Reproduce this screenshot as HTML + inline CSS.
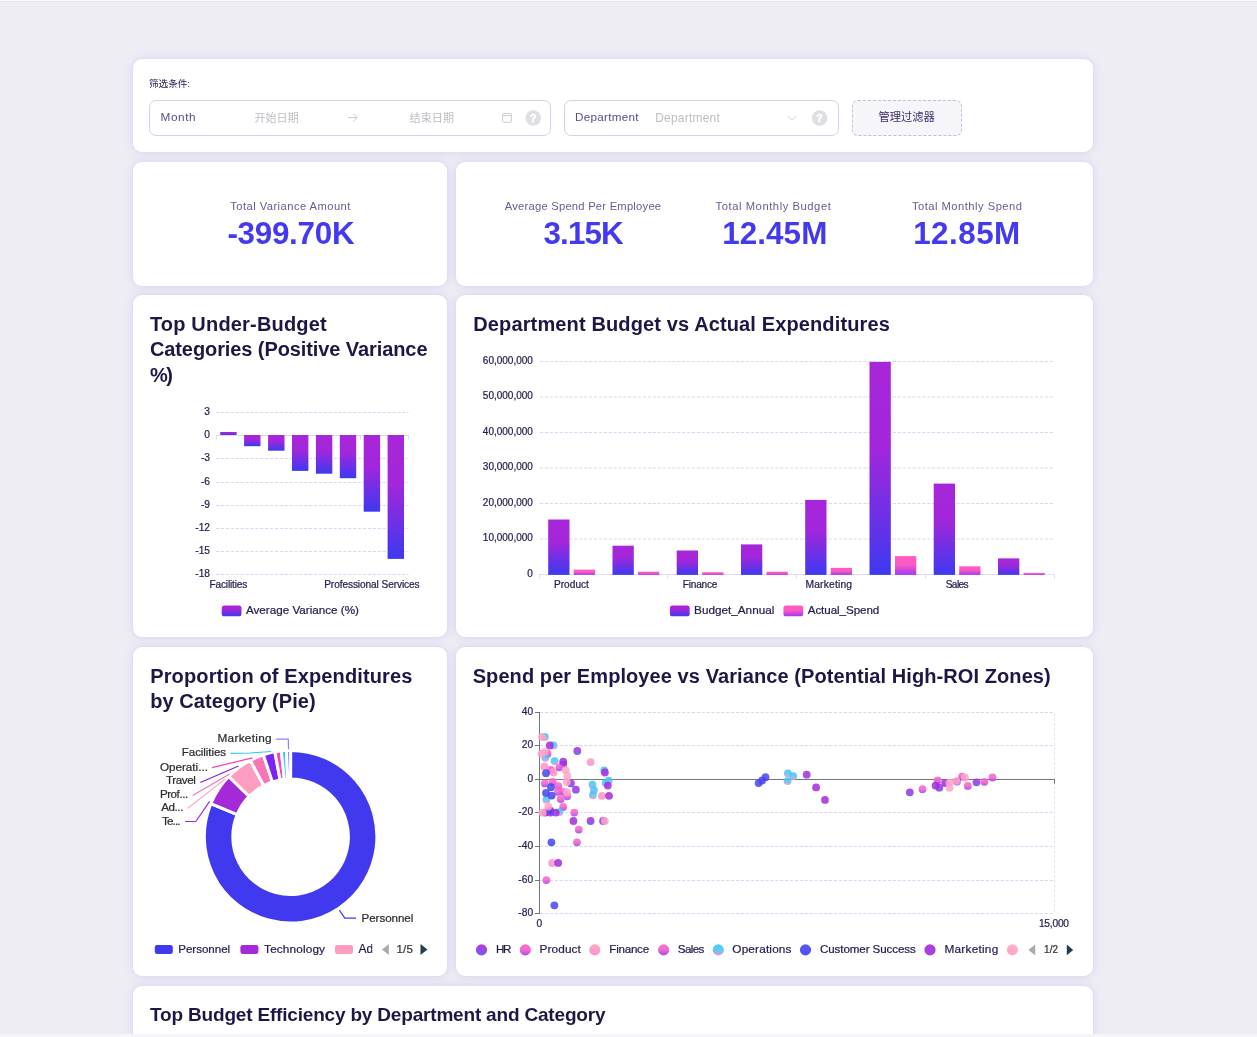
<!DOCTYPE html>
<html lang="en"><head><meta charset="utf-8"><title>Budget Dashboard</title>
<style>
*{box-sizing:border-box;margin:0;padding:0}
html,body{width:1257px;height:1037px;overflow:hidden}
body{background:#eeedf4;font-family:"Liberation Sans",sans-serif;position:relative;color:#1f1646}
.topline{position:absolute;left:0;top:0;width:1257px;height:2px;background:linear-gradient(#fbfbfc 0,#fbfbfc 50%,#e6e6e8 50%,#e6e6e8 100%)}
.botbar{position:absolute;left:0;top:1034px;width:1257px;height:3px;background:#f4f5f8}
.card{position:absolute;background:#fff;border-radius:9px;box-shadow:0 0 10px 1px rgba(152,122,238,.17),0 0 3px rgba(152,122,238,.1)}
.inp{position:absolute;top:100px;height:36px;border:1px solid #d3d1ee;border-radius:7px;background:#fff}
.btn{position:absolute;left:852px;top:100px;width:110px;height:36px;border:1px dashed #c4bde0;border-radius:6px;background:#f6f5fa}
svg{position:absolute;left:0;top:0;will-change:transform}
svg text{font-family:"Liberation Sans",sans-serif;white-space:pre}
</style></head><body>
<div class="topline"></div>
<div class="card" style="left:133px;top:59px;width:960px;height:93px"></div>
<div class="card" style="left:133px;top:162px;width:314px;height:124px"></div>
<div class="card" style="left:456px;top:162px;width:637px;height:124px"></div>
<div class="card" style="left:133px;top:295px;width:314px;height:342px"></div>
<div class="card" style="left:456px;top:295px;width:637px;height:342px"></div>
<div class="card" style="left:133px;top:647px;width:314px;height:329px"></div>
<div class="card" style="left:456px;top:647px;width:637px;height:329px"></div>
<div class="card" style="left:133px;top:986px;width:960px;height:80px"></div>
<div class="inp" style="left:149px;width:402px"></div>
<div class="inp" style="left:564px;width:275px"></div>
<div class="btn"></div>
<svg width="1257" height="1037" viewBox="0 0 1257 1037">
<defs>
<linearGradient id="gB" x1="0" y1="0" x2="0" y2="1"><stop offset="0" stop-color="#a826d9"/><stop offset="0.4" stop-color="#a326da"/><stop offset="1" stop-color="#3d39f1"/></linearGradient>
<linearGradient id="gA" x1="0" y1="0" x2="0" y2="1"><stop offset="0" stop-color="#ff5cc0"/><stop offset="0.45" stop-color="#fb5ac4"/><stop offset="1" stop-color="#a436f0"/></linearGradient>
<linearGradient id="sHR" x1="0" y1="0" x2="0" y2="1"><stop offset="0" stop-color="#aa2fda"/><stop offset="0.35" stop-color="#a232dd"/><stop offset="1" stop-color="#5850f7"/></linearGradient>
<linearGradient id="sPR" x1="0" y1="0" x2="0" y2="1"><stop offset="0" stop-color="#ff62c2"/><stop offset="0.45" stop-color="#f95ec6"/><stop offset="1" stop-color="#9e40f5"/></linearGradient>
<linearGradient id="sFI" x1="0" y1="0" x2="0" y2="1"><stop offset="0" stop-color="#ff9cc4"/><stop offset="1" stop-color="#f88cc8"/></linearGradient>
<linearGradient id="sSA" x1="0" y1="0" x2="0" y2="1"><stop offset="0" stop-color="#fb68c4"/><stop offset="0.45" stop-color="#f060cc"/><stop offset="1" stop-color="#9c3af5"/></linearGradient>
<linearGradient id="sOP" x1="0" y1="0" x2="0" y2="1"><stop offset="0" stop-color="#35c8f5"/><stop offset="0.55" stop-color="#55c4f2"/><stop offset="1" stop-color="#f48cd0"/></linearGradient>
<linearGradient id="sCS" x1="0" y1="0" x2="0" y2="1"><stop offset="0" stop-color="#4b4af2"/><stop offset="1" stop-color="#4540ee"/></linearGradient>
<linearGradient id="sMK" x1="0" y1="0" x2="0" y2="1"><stop offset="0" stop-color="#a82cda"/><stop offset="1" stop-color="#a030e0"/></linearGradient>
<linearGradient id="sX" x1="0" y1="0" x2="0" y2="1"><stop offset="0" stop-color="#ffa8c8"/><stop offset="1" stop-color="#ffa0c4"/></linearGradient>
</defs>
<g id="filter-bar">
<text x="149" y="86.6" font-size="9.6" fill="#2a2250" style="font-family:'Liberation Sans','Noto Sans CJK SC',sans-serif">筛选条件:</text>
<text x="254.4" y="122.2" font-size="11.1" fill="#bdbdc4" style="font-family:'Liberation Sans','Noto Sans CJK SC',sans-serif">开始日期</text>
<text x="409.6" y="122.2" font-size="11.1" fill="#bdbdc4" style="font-family:'Liberation Sans','Noto Sans CJK SC',sans-serif">结束日期</text>
<text x="878.4" y="121.2" font-size="11.3" fill="#3f2f6e" style="font-family:'Liberation Sans','Noto Sans CJK SC',sans-serif">管理过滤器</text>
<path d="M348 117.6H357M353.2 113.6L357.2 117.6L353.2 121.6" fill="none" stroke="#c4c4ca" stroke-width="0.9"/>
<rect x="502.6" y="113.5" width="8.8" height="8.8" rx="0.9" fill="none" stroke="#c6c6cc" stroke-width="0.9"/><line x1="502.6" y1="115.6" x2="511.4" y2="115.6" stroke="#c6c6cc" stroke-width="0.9"/>
<circle cx="533.2" cy="118" r="7.8" fill="#dfdee3"/>
<text x="533.2" y="121.8" font-size="10.6" font-weight="700" fill="#fff" stroke="#fff" stroke-width="0.5" text-anchor="middle">?</text>
<circle cx="819.6" cy="118" r="7.8" fill="#dfdee3"/>
<text x="819.6" y="121.8" font-size="10.6" font-weight="700" fill="#fff" stroke="#fff" stroke-width="0.5" text-anchor="middle">?</text>
<path d="M787.8 116.2L792 120.2L796.2 116.2" fill="none" stroke="#c6c6cc" stroke-width="0.9"/>
<text x="160.6" y="120.9" font-size="11.8" fill="#5a4a8c" textLength="34.9" lengthAdjust="spacing">Month</text>
<text x="575.0" y="120.9" font-size="11.7" fill="#5a4a8c" textLength="63.5" lengthAdjust="spacing">Department</text>
<text x="655.2" y="122.0" font-size="11.9" fill="#bcbcc2" textLength="64.5" lengthAdjust="spacing">Department</text>
</g>
<g id="kpis">
<text x="230.2" y="209.6" font-size="11.2" fill="#6a5a90" textLength="120.2" lengthAdjust="spacing">Total Variance Amount</text>
<text x="504.7" y="209.6" font-size="11.2" fill="#6a5a90" textLength="156.4" lengthAdjust="spacing">Average Spend Per Employee</text>
<text x="715.6" y="209.6" font-size="11.2" fill="#6a5a90" textLength="115.2" lengthAdjust="spacing">Total Monthly Budget</text>
<text x="911.9" y="209.6" font-size="11.2" fill="#6a5a90" textLength="110.1" lengthAdjust="spacing">Total Monthly Spend</text>
<text x="227.4" y="243.8" font-size="31.4" fill="#4339f1" font-weight="700" textLength="127.2" lengthAdjust="spacing">-399.70K</text>
<text x="543.5" y="243.8" font-size="31.4" fill="#4339f1" font-weight="700" textLength="80.2" lengthAdjust="spacing">3.15K</text>
<text x="722.2" y="243.8" font-size="31.4" fill="#4339f1" font-weight="700" textLength="105.1" lengthAdjust="spacing">12.45M</text>
<text x="913.2" y="243.8" font-size="31.4" fill="#4339f1" font-weight="700" textLength="107.0" lengthAdjust="spacing">12.85M</text>
</g>
<g id="titles" font-weight="700">
<text x="149.9" y="330.7" font-size="20.0" fill="#1f1646" textLength="176.8" lengthAdjust="spacing">Top Under-Budget</text>
<text x="149.9" y="356.4" font-size="20.0" fill="#1f1646" textLength="277.6" lengthAdjust="spacing">Categories (Positive Variance</text>
<text x="149.9" y="382.1" font-size="20.0" fill="#1f1646" textLength="22.9" lengthAdjust="spacing">%)</text>
<text x="473.3" y="330.7" font-size="20.0" fill="#1f1646" textLength="416.5" lengthAdjust="spacing">Department Budget vs Actual Expenditures</text>
<text x="150.2" y="682.5" font-size="20.0" fill="#1f1646" textLength="262.2" lengthAdjust="spacing">Proportion of Expenditures</text>
<text x="150.2" y="708.1" font-size="20.0" fill="#1f1646" textLength="165.5" lengthAdjust="spacing">by Category (Pie)</text>
<text x="472.7" y="682.5" font-size="20.0" fill="#1f1646" textLength="578.0" lengthAdjust="spacing">Spend per Employee vs Variance (Potential High-ROI Zones)</text>
<text x="150.1" y="1020.7" font-size="19.0" fill="#1f1646" textLength="455.4" lengthAdjust="spacing">Top Budget Efficiency by Department and Category</text>
</g>
<g id="chart-under-budget">
<line x1="216" y1="412.5" x2="408.5" y2="412.5" stroke="#d9d7f1" stroke-width="1" stroke-dasharray="3.2 1.7"/>
<text x="210.0" y="414.6" font-size="10.2" fill="#231b4b" stroke="#231b4b" stroke-width="0.22" text-anchor="end">3</text>
<text x="210.0" y="437.6" font-size="10.2" fill="#231b4b" stroke="#231b4b" stroke-width="0.22" text-anchor="end">0</text>
<line x1="216" y1="458.5" x2="408.5" y2="458.5" stroke="#d9d7f1" stroke-width="1" stroke-dasharray="3.2 1.7"/>
<text x="210.0" y="460.6" font-size="10.2" fill="#231b4b" stroke="#231b4b" stroke-width="0.22" text-anchor="end">-3</text>
<line x1="216" y1="482.5" x2="408.5" y2="482.5" stroke="#d9d7f1" stroke-width="1" stroke-dasharray="3.2 1.7"/>
<text x="210.0" y="484.6" font-size="10.2" fill="#231b4b" stroke="#231b4b" stroke-width="0.22" text-anchor="end">-6</text>
<line x1="216" y1="505.5" x2="408.5" y2="505.5" stroke="#d9d7f1" stroke-width="1" stroke-dasharray="3.2 1.7"/>
<text x="210.0" y="507.6" font-size="10.2" fill="#231b4b" stroke="#231b4b" stroke-width="0.22" text-anchor="end">-9</text>
<line x1="216" y1="528.5" x2="408.5" y2="528.5" stroke="#d9d7f1" stroke-width="1" stroke-dasharray="3.2 1.7"/>
<text x="210.0" y="530.6" font-size="10.2" fill="#231b4b" stroke="#231b4b" stroke-width="0.22" text-anchor="end">-12</text>
<line x1="216" y1="551.5" x2="408.5" y2="551.5" stroke="#d9d7f1" stroke-width="1" stroke-dasharray="3.2 1.7"/>
<text x="210.0" y="553.6" font-size="10.2" fill="#231b4b" stroke="#231b4b" stroke-width="0.22" text-anchor="end">-15</text>
<line x1="216" y1="574.5" x2="408.5" y2="574.5" stroke="#d9d7f1" stroke-width="1" stroke-dasharray="3.2 1.7"/>
<text x="210.0" y="576.6" font-size="10.2" fill="#231b4b" stroke="#231b4b" stroke-width="0.22" text-anchor="end">-18</text>
<line x1="216" y1="435.5" x2="409.0" y2="435.5" stroke="#e0ddf2" stroke-width="1"/>
<line x1="216.5" y1="435.5" x2="216.5" y2="439.5" stroke="#e0ddf2" stroke-width="1"/>
<line x1="360.5" y1="435.5" x2="360.5" y2="439.5" stroke="#e0ddf2" stroke-width="1"/>
<line x1="408.5" y1="435.5" x2="408.5" y2="439.5" stroke="#e0ddf2" stroke-width="1"/>
<rect x="220.2" y="432.0" width="16.4" height="3.0" fill="url(#gB)"/>
<rect x="244.1" y="435.0" width="16.4" height="11.2" fill="url(#gB)"/>
<rect x="268.1" y="435.0" width="16.4" height="15.7" fill="url(#gB)"/>
<rect x="292.0" y="435.0" width="16.4" height="35.9" fill="url(#gB)"/>
<rect x="315.9" y="435.0" width="16.4" height="38.7" fill="url(#gB)"/>
<rect x="339.8" y="435.0" width="16.4" height="43.2" fill="url(#gB)"/>
<rect x="363.7" y="435.0" width="16.4" height="76.7" fill="url(#gB)"/>
<rect x="387.6" y="435.0" width="16.4" height="123.9" fill="url(#gB)"/>
<text x="209.5" y="588.1" font-size="10.15" fill="#231b4b" stroke="#231b4b" stroke-width="0.22" textLength="37.7" lengthAdjust="spacing">Facilities</text>
<text x="324.2" y="588.1" font-size="10.15" fill="#231b4b" stroke="#231b4b" stroke-width="0.22" textLength="95.4" lengthAdjust="spacing">Professional Services</text>
<rect x="221.7" y="605.4" width="19.8" height="10.9" rx="2.6" fill="url(#gB)"/>
<text x="245.9" y="614.0" font-size="11.67" fill="#231b4b" stroke="#231b4b" stroke-width="0.22" textLength="113.1" lengthAdjust="spacing">Average Variance (%)</text>
</g>
<g id="chart-dept-budget">
<line x1="540" y1="361.5" x2="1053.5" y2="361.5" stroke="#d9d7f1" stroke-width="1" stroke-dasharray="3.2 1.7"/>
<text x="532.9" y="363.6" font-size="10.0" fill="#231b4b" stroke="#231b4b" stroke-width="0.22" text-anchor="end">60,000,000</text>
<line x1="540" y1="397.0" x2="1053.5" y2="397.0" stroke="#d9d7f1" stroke-width="1" stroke-dasharray="3.2 1.7"/>
<text x="532.9" y="399.1" font-size="10.0" fill="#231b4b" stroke="#231b4b" stroke-width="0.22" text-anchor="end">50,000,000</text>
<line x1="540" y1="432.5" x2="1053.5" y2="432.5" stroke="#d9d7f1" stroke-width="1" stroke-dasharray="3.2 1.7"/>
<text x="532.9" y="434.6" font-size="10.0" fill="#231b4b" stroke="#231b4b" stroke-width="0.22" text-anchor="end">40,000,000</text>
<line x1="540" y1="468.0" x2="1053.5" y2="468.0" stroke="#d9d7f1" stroke-width="1" stroke-dasharray="3.2 1.7"/>
<text x="532.9" y="470.1" font-size="10.0" fill="#231b4b" stroke="#231b4b" stroke-width="0.22" text-anchor="end">30,000,000</text>
<line x1="540" y1="503.5" x2="1053.5" y2="503.5" stroke="#d9d7f1" stroke-width="1" stroke-dasharray="3.2 1.7"/>
<text x="532.9" y="505.6" font-size="10.0" fill="#231b4b" stroke="#231b4b" stroke-width="0.22" text-anchor="end">20,000,000</text>
<line x1="540" y1="539.0" x2="1053.5" y2="539.0" stroke="#d9d7f1" stroke-width="1" stroke-dasharray="3.2 1.7"/>
<text x="532.9" y="541.1" font-size="10.0" fill="#231b4b" stroke="#231b4b" stroke-width="0.22" text-anchor="end">10,000,000</text>
<text x="532.9" y="576.6" font-size="10.0" fill="#231b4b" stroke="#231b4b" stroke-width="0.22" text-anchor="end">0</text>
<line x1="539" y1="574.5" x2="1055" y2="574.5" stroke="#e0ddf2" stroke-width="1"/>
<line x1="539.5" y1="574.5" x2="539.5" y2="578.7" stroke="#e0ddf2" stroke-width="1"/>
<line x1="667.5" y1="574.5" x2="667.5" y2="578.7" stroke="#e0ddf2" stroke-width="1"/>
<line x1="796.5" y1="574.5" x2="796.5" y2="578.7" stroke="#e0ddf2" stroke-width="1"/>
<line x1="925.5" y1="574.5" x2="925.5" y2="578.7" stroke="#e0ddf2" stroke-width="1"/>
<line x1="1054.5" y1="574.5" x2="1054.5" y2="578.7" stroke="#e0ddf2" stroke-width="1"/>
<rect x="548.2" y="519.5" width="21.3" height="55.4" fill="url(#gB)"/>
<rect x="573.7" y="569.6" width="21.3" height="5.3" fill="url(#gA)"/>
<rect x="612.5" y="545.7" width="21.3" height="29.2" fill="url(#gB)"/>
<rect x="638.0" y="571.7" width="21.3" height="3.2" fill="url(#gA)"/>
<rect x="676.7" y="550.5" width="21.3" height="24.4" fill="url(#gB)"/>
<rect x="702.2" y="572.2" width="21.3" height="2.7" fill="url(#gA)"/>
<rect x="741.0" y="544.4" width="21.3" height="30.5" fill="url(#gB)"/>
<rect x="766.5" y="571.7" width="21.3" height="3.2" fill="url(#gA)"/>
<rect x="805.2" y="499.9" width="21.3" height="75.0" fill="url(#gB)"/>
<rect x="830.7" y="567.9" width="21.3" height="7.0" fill="url(#gA)"/>
<rect x="869.5" y="361.9" width="21.3" height="213.0" fill="url(#gB)"/>
<rect x="895.0" y="556.1" width="21.3" height="18.8" fill="url(#gA)"/>
<rect x="933.7" y="483.6" width="21.3" height="91.3" fill="url(#gB)"/>
<rect x="959.2" y="566.3" width="21.3" height="8.6" fill="url(#gA)"/>
<rect x="998.0" y="558.4" width="21.3" height="16.5" fill="url(#gB)"/>
<rect x="1023.5" y="572.9" width="21.3" height="2.0" fill="url(#gA)"/>
<text x="554.0" y="588.2" font-size="10.15" fill="#231b4b" stroke="#231b4b" stroke-width="0.22" textLength="34.9" lengthAdjust="spacing">Product</text>
<text x="682.8" y="588.2" font-size="10.15" fill="#231b4b" stroke="#231b4b" stroke-width="0.22" textLength="34.7" lengthAdjust="spacing">Finance</text>
<text x="805.5" y="588.2" font-size="10.25" fill="#231b4b" stroke="#231b4b" stroke-width="0.22" textLength="46.5" lengthAdjust="spacing">Marketing</text>
<text x="945.7" y="588.2" font-size="10.15" fill="#231b4b" stroke="#231b4b" stroke-width="0.22" textLength="22.9" lengthAdjust="spacing">Sales</text>
<rect x="669.9" y="605.4" width="19.8" height="10.9" rx="2.6" fill="url(#gB)"/>
<text x="694.1" y="614.0" font-size="11.73" fill="#231b4b" stroke="#231b4b" stroke-width="0.22" textLength="80.2" lengthAdjust="spacing">Budget_Annual</text>
<rect x="783.4" y="605.4" width="19.8" height="10.9" rx="2.6" fill="url(#gA)"/>
<text x="807.7" y="614.0" font-size="11.6" fill="#231b4b" stroke="#231b4b" stroke-width="0.22" textLength="71.6" lengthAdjust="spacing">Actual_Spend</text>
</g>
<g id="chart-pie">
<path d="M290.60 750.40A86.3 86.3 0 1 1 210.87 803.67L237.20 814.58A57.8 57.8 0 1 0 290.60 778.90Z" fill="#4139ef" stroke="#fff" stroke-width="3" stroke-linejoin="miter"/>
<path d="M210.87 803.67A86.3 86.3 0 0 1 228.73 776.53L249.16 796.40A57.8 57.8 0 0 0 237.20 814.58Z" fill="#a429d9" stroke="#fff" stroke-width="3" stroke-linejoin="miter"/>
<path d="M228.73 776.53A86.3 86.3 0 0 1 250.35 760.36L263.64 785.57A57.8 57.8 0 0 0 249.16 796.40Z" fill="#ff9dc0" stroke="#fff" stroke-width="3" stroke-linejoin="miter"/>
<path d="M250.35 760.36A86.3 86.3 0 0 1 263.36 754.81L272.36 781.85A57.8 57.8 0 0 0 263.64 785.57Z" fill="#f774b6" stroke="#fff" stroke-width="3" stroke-linejoin="miter"/>
<path d="M263.36 754.81A86.3 86.3 0 0 1 274.87 751.85L280.07 779.87A57.8 57.8 0 0 0 272.36 781.85Z" fill="#7c22f5" stroke="#fff" stroke-width="3" stroke-linejoin="miter"/>
<path d="M274.87 751.85A86.3 86.3 0 0 1 281.28 750.90L284.36 779.24A57.8 57.8 0 0 0 280.07 779.87Z" fill="#ff3fb4" stroke="#fff" stroke-width="3" stroke-linejoin="miter"/>
<path d="M281.28 750.90A86.3 86.3 0 0 1 286.38 750.50L287.78 778.97A57.8 57.8 0 0 0 284.36 779.24Z" fill="#2cc6f2" stroke="#fff" stroke-width="3" stroke-linejoin="miter"/>
<path d="M286.38 750.50A86.3 86.3 0 0 1 290.60 750.40L290.60 778.90A57.8 57.8 0 0 0 287.78 778.97Z" fill="#8584ff" stroke="#fff" stroke-width="3" stroke-linejoin="miter"/>
<polyline points="276.2,739.1 288.3,739.1 288.5,749.3" fill="none" stroke="#8584ff" stroke-width="1.2"/>
<polyline points="230.6,753.4 250,753.0 271,751.5" fill="none" stroke="#2cc6f2" stroke-width="1.2"/>
<polyline points="212.1,767.6 252.5,757.8" fill="none" stroke="#ff3fb4" stroke-width="1.2"/>
<polyline points="200.3,782.5 238.5,766.0" fill="none" stroke="#7c22f5" stroke-width="1.2"/>
<polyline points="192.6,795.4 229.6,774.0" fill="none" stroke="#f774b6" stroke-width="1.2"/>
<polyline points="187.6,808.4 225.1,779.1" fill="none" stroke="#ff9dc0" stroke-width="1.2"/>
<polyline points="185.0,821.5 195.8,821.5 209.6,801.4" fill="none" stroke="#a429d9" stroke-width="1.2"/>
<polyline points="339.3,910.2 344.8,918.1 356,918.1" fill="none" stroke="#4139ef" stroke-width="1.2"/>
<text x="217.5" y="741.5" font-size="11.8" fill="#2c2c2c" stroke="#2c2c2c" stroke-width="0.22" textLength="54.1" lengthAdjust="spacing">Marketing</text>
<text x="181.8" y="755.8" font-size="11.6" fill="#2c2c2c" stroke="#2c2c2c" stroke-width="0.22" textLength="44.3" lengthAdjust="spacing">Facilities</text>
<text x="159.9" y="770.6" font-size="11.67" fill="#2c2c2c" stroke="#2c2c2c" stroke-width="0.22" textLength="48.0" lengthAdjust="spacing">Operati...</text>
<text x="165.9" y="784.4" font-size="11.6" fill="#2c2c2c" stroke="#2c2c2c" stroke-width="0.22" textLength="29.9" lengthAdjust="spacing">Travel</text>
<text x="159.9" y="798.4" font-size="11.6" fill="#2c2c2c" stroke="#2c2c2c" stroke-width="0.22" textLength="28.3" lengthAdjust="spacing">Prof...</text>
<text x="161.2" y="811.2" font-size="11.6" fill="#2c2c2c" stroke="#2c2c2c" stroke-width="0.22" textLength="22.2" lengthAdjust="spacing">Ad...</text>
<text x="162.1" y="824.5" font-size="11.6" fill="#2c2c2c" stroke="#2c2c2c" stroke-width="0.22" textLength="18.4" lengthAdjust="spacing">Te...</text>
<text x="361.5" y="921.7" font-size="11.6" fill="#2c2c2c" stroke="#2c2c2c" stroke-width="0.22" textLength="51.8" lengthAdjust="spacing">Personnel</text>
<rect x="154.8" y="944.9" width="18" height="9.2" rx="2.4" fill="#4139ef"/>
<text x="178.2" y="952.8" font-size="11.6" fill="#231b4b" stroke="#231b4b" stroke-width="0.22" textLength="52.0" lengthAdjust="spacing">Personnel</text>
<rect x="240.4" y="944.9" width="18" height="9.2" rx="2.4" fill="#a429d9"/>
<text x="264.1" y="952.8" font-size="11.8" fill="#231b4b" stroke="#231b4b" stroke-width="0.22" textLength="60.9" lengthAdjust="spacing">Technology</text>
<rect x="335" y="944.9" width="18" height="9.2" rx="2.4" fill="#ff9dc0"/>
<clipPath id="cAd"><rect x="355" y="938" width="17.3" height="22"/></clipPath>
<text x="358.4" y="952.8" font-size="12.0" fill="#231b4b" stroke="#231b4b" stroke-width="0.22" clip-path="url(#cAd)">Administrative</text>
<path d="M388.9 943.9L382 949.4L388.9 954.9Z" fill="#aaa"/>
<text x="396.6" y="952.8" font-size="11.5" fill="#333" stroke="#333" stroke-width="0.22" textLength="16.2" lengthAdjust="spacing">1/5</text>
<path d="M420.5 943.9L427.4 949.4L420.5 954.9Z" fill="#223c4e"/>
</g>
<g id="chart-scatter">
<line x1="540" y1="712.5" x2="1053.5" y2="712.5" stroke="#d9d7f1" stroke-width="1" stroke-dasharray="3.2 1.7"/>
<line x1="535.0" y1="712.5" x2="539.5" y2="712.5" stroke="#74767f" stroke-width="1"/>
<text x="533.1" y="714.6" font-size="10.2" fill="#231b4b" stroke="#231b4b" stroke-width="0.22" text-anchor="end">40</text>
<line x1="540" y1="745.5" x2="1053.5" y2="745.5" stroke="#d9d7f1" stroke-width="1" stroke-dasharray="3.2 1.7"/>
<line x1="535.0" y1="745.5" x2="539.5" y2="745.5" stroke="#74767f" stroke-width="1"/>
<text x="533.1" y="747.6" font-size="10.2" fill="#231b4b" stroke="#231b4b" stroke-width="0.22" text-anchor="end">20</text>
<line x1="535.0" y1="779.5" x2="539.5" y2="779.5" stroke="#74767f" stroke-width="1"/>
<text x="533.1" y="781.6" font-size="10.2" fill="#231b4b" stroke="#231b4b" stroke-width="0.22" text-anchor="end">0</text>
<line x1="540" y1="812.5" x2="1053.5" y2="812.5" stroke="#d9d7f1" stroke-width="1" stroke-dasharray="3.2 1.7"/>
<line x1="535.0" y1="812.5" x2="539.5" y2="812.5" stroke="#74767f" stroke-width="1"/>
<text x="533.1" y="814.6" font-size="10.2" fill="#231b4b" stroke="#231b4b" stroke-width="0.22" text-anchor="end">-20</text>
<line x1="540" y1="846.5" x2="1053.5" y2="846.5" stroke="#d9d7f1" stroke-width="1" stroke-dasharray="3.2 1.7"/>
<line x1="535.0" y1="846.5" x2="539.5" y2="846.5" stroke="#74767f" stroke-width="1"/>
<text x="533.1" y="848.6" font-size="10.2" fill="#231b4b" stroke="#231b4b" stroke-width="0.22" text-anchor="end">-40</text>
<line x1="540" y1="880.5" x2="1053.5" y2="880.5" stroke="#d9d7f1" stroke-width="1" stroke-dasharray="3.2 1.7"/>
<line x1="535.0" y1="880.5" x2="539.5" y2="880.5" stroke="#74767f" stroke-width="1"/>
<text x="533.1" y="882.6" font-size="10.2" fill="#231b4b" stroke="#231b4b" stroke-width="0.22" text-anchor="end">-60</text>
<line x1="540" y1="913.5" x2="1053.5" y2="913.5" stroke="#d9d7f1" stroke-width="1" stroke-dasharray="3.2 1.7"/>
<line x1="535.0" y1="913.5" x2="539.5" y2="913.5" stroke="#74767f" stroke-width="1"/>
<text x="533.1" y="915.6" font-size="10.2" fill="#231b4b" stroke="#231b4b" stroke-width="0.22" text-anchor="end">-80</text>
<line x1="1054.5" y1="713" x2="1054.5" y2="913.5" stroke="#e6e4f5" stroke-width="1" stroke-dasharray="3.2 1.7"/>
<line x1="539.5" y1="712" x2="539.5" y2="914" stroke="#74767f" stroke-width="1"/>
<line x1="539.5" y1="779.5" x2="1054" y2="779.5" stroke="#74767f" stroke-width="1"/>
<line x1="1054.5" y1="779" x2="1054.5" y2="783.5" stroke="#74767f" stroke-width="1"/>
<text x="539.3" y="926.8" font-size="10.2" fill="#231b4b" stroke="#231b4b" stroke-width="0.22" text-anchor="middle">0</text>
<text x="1038.9" y="926.8" font-size="10.2" fill="#231b4b" stroke="#231b4b" stroke-width="0.22" textLength="30.1" lengthAdjust="spacing">15,000</text>
<circle cx="577.3" cy="751" r="3.9" fill="url(#sHR)" fill-opacity="0.86"/>
<circle cx="563.2" cy="764.6" r="3.9" fill="url(#sHR)" fill-opacity="0.86"/>
<circle cx="570.9" cy="783.4" r="3.9" fill="url(#sHR)" fill-opacity="0.86"/>
<circle cx="575.9" cy="789.7" r="3.9" fill="url(#sHR)" fill-opacity="0.86"/>
<circle cx="550.3" cy="812.6" r="3.9" fill="url(#sHR)" fill-opacity="0.86"/>
<circle cx="590.6" cy="821" r="3.9" fill="url(#sHR)" fill-opacity="0.86"/>
<circle cx="603.1" cy="821" r="3.9" fill="url(#sHR)" fill-opacity="0.86"/>
<circle cx="909.8" cy="792.3" r="3.9" fill="url(#sHR)" fill-opacity="0.86"/>
<circle cx="939.3" cy="787.7" r="3.9" fill="url(#sHR)" fill-opacity="0.86"/>
<circle cx="956.9" cy="781.6" r="3.9" fill="url(#sHR)" fill-opacity="0.86"/>
<circle cx="976.5" cy="782.3" r="3.9" fill="url(#sHR)" fill-opacity="0.86"/>
<circle cx="551" cy="769.8" r="3.9" fill="url(#sPR)" fill-opacity="0.86"/>
<circle cx="552.6" cy="782" r="3.9" fill="url(#sPR)" fill-opacity="0.86"/>
<circle cx="558.4" cy="786.1" r="3.9" fill="url(#sPR)" fill-opacity="0.86"/>
<circle cx="557.8" cy="791.8" r="3.9" fill="url(#sPR)" fill-opacity="0.86"/>
<circle cx="574.3" cy="812.6" r="3.9" fill="url(#sPR)" fill-opacity="0.86"/>
<circle cx="577" cy="842.3" r="3.9" fill="url(#sPR)" fill-opacity="0.86"/>
<circle cx="546.4" cy="880.1" r="3.9" fill="url(#sPR)" fill-opacity="0.86"/>
<circle cx="922.5" cy="789.2" r="3.9" fill="url(#sPR)" fill-opacity="0.86"/>
<circle cx="967.8" cy="785.9" r="3.9" fill="url(#sPR)" fill-opacity="0.86"/>
<circle cx="984.4" cy="781.8" r="3.9" fill="url(#sPR)" fill-opacity="0.86"/>
<circle cx="992.5" cy="777.5" r="3.9" fill="url(#sPR)" fill-opacity="0.86"/>
<circle cx="590.6" cy="762.1" r="3.9" fill="url(#sFI)" fill-opacity="0.86"/>
<circle cx="544.4" cy="766.4" r="3.9" fill="url(#sFI)" fill-opacity="0.86"/>
<circle cx="553.5" cy="772.5" r="3.9" fill="url(#sFI)" fill-opacity="0.86"/>
<circle cx="601.9" cy="795.8" r="3.9" fill="url(#sFI)" fill-opacity="0.86"/>
<circle cx="552.1" cy="862.9" r="3.9" fill="url(#sFI)" fill-opacity="0.86"/>
<circle cx="547.6" cy="753.7" r="3.9" fill="url(#sSA)" fill-opacity="0.86"/>
<circle cx="559.4" cy="767.3" r="3.9" fill="url(#sSA)" fill-opacity="0.86"/>
<circle cx="544.9" cy="783.4" r="3.9" fill="url(#sSA)" fill-opacity="0.86"/>
<circle cx="563.4" cy="791.8" r="3.9" fill="url(#sSA)" fill-opacity="0.86"/>
<circle cx="567.3" cy="796.3" r="3.9" fill="url(#sSA)" fill-opacity="0.86"/>
<circle cx="560.7" cy="799" r="3.9" fill="url(#sSA)" fill-opacity="0.86"/>
<circle cx="563.2" cy="806.9" r="3.9" fill="url(#sSA)" fill-opacity="0.86"/>
<circle cx="578.8" cy="829.6" r="3.9" fill="url(#sSA)" fill-opacity="0.86"/>
<circle cx="937.6" cy="780.5" r="3.9" fill="url(#sSA)" fill-opacity="0.86"/>
<circle cx="962" cy="776.7" r="3.9" fill="url(#sSA)" fill-opacity="0.86"/>
<circle cx="544.9" cy="736.9" r="3.9" fill="url(#sOP)" fill-opacity="0.86"/>
<circle cx="553.5" cy="745.5" r="3.9" fill="url(#sOP)" fill-opacity="0.86"/>
<circle cx="545.3" cy="757.8" r="3.9" fill="url(#sOP)" fill-opacity="0.86"/>
<circle cx="554.6" cy="761.2" r="3.9" fill="url(#sOP)" fill-opacity="0.86"/>
<circle cx="604.2" cy="770.5" r="3.9" fill="url(#sOP)" fill-opacity="0.86"/>
<circle cx="608.7" cy="780.7" r="3.9" fill="url(#sOP)" fill-opacity="0.86"/>
<circle cx="605.6" cy="782.9" r="3.9" fill="url(#sOP)" fill-opacity="0.86"/>
<circle cx="592.4" cy="784.7" r="3.9" fill="url(#sOP)" fill-opacity="0.86"/>
<circle cx="594" cy="790.2" r="3.9" fill="url(#sOP)" fill-opacity="0.86"/>
<circle cx="592.9" cy="795.2" r="3.9" fill="url(#sOP)" fill-opacity="0.86"/>
<circle cx="546.4" cy="799.7" r="3.9" fill="url(#sOP)" fill-opacity="0.86"/>
<circle cx="559.4" cy="812.1" r="3.9" fill="url(#sOP)" fill-opacity="0.86"/>
<circle cx="787.9" cy="773.4" r="3.9" fill="url(#sOP)" fill-opacity="0.86"/>
<circle cx="793.2" cy="776.2" r="3.9" fill="url(#sOP)" fill-opacity="0.86"/>
<circle cx="787.6" cy="781.1" r="3.9" fill="url(#sOP)" fill-opacity="0.86"/>
<circle cx="546" cy="773.2" r="3.9" fill="url(#sCS)" fill-opacity="0.86"/>
<circle cx="551" cy="787.2" r="3.9" fill="url(#sCS)" fill-opacity="0.86"/>
<circle cx="546" cy="792.9" r="3.9" fill="url(#sCS)" fill-opacity="0.86"/>
<circle cx="551.7" cy="795.6" r="3.9" fill="url(#sCS)" fill-opacity="0.86"/>
<circle cx="550.3" cy="810.6" r="3.9" fill="url(#sCS)" fill-opacity="0.86"/>
<circle cx="551.4" cy="842.3" r="3.9" fill="url(#sCS)" fill-opacity="0.86"/>
<circle cx="554.4" cy="905.3" r="3.9" fill="url(#sCS)" fill-opacity="0.86"/>
<circle cx="758.6" cy="783.1" r="3.9" fill="url(#sCS)" fill-opacity="0.86"/>
<circle cx="762.1" cy="780.5" r="3.9" fill="url(#sCS)" fill-opacity="0.86"/>
<circle cx="765.5" cy="777.2" r="3.9" fill="url(#sCS)" fill-opacity="0.86"/>
<circle cx="549.8" cy="745.5" r="3.9" fill="url(#sMK)" fill-opacity="0.86"/>
<circle cx="563.2" cy="761.6" r="3.9" fill="url(#sMK)" fill-opacity="0.86"/>
<circle cx="604.9" cy="772.5" r="3.9" fill="url(#sMK)" fill-opacity="0.86"/>
<circle cx="607.8" cy="785.6" r="3.9" fill="url(#sMK)" fill-opacity="0.86"/>
<circle cx="609" cy="795.8" r="3.9" fill="url(#sMK)" fill-opacity="0.86"/>
<circle cx="545.3" cy="812.6" r="3.9" fill="url(#sMK)" fill-opacity="0.86"/>
<circle cx="555.7" cy="812.6" r="3.9" fill="url(#sMK)" fill-opacity="0.86"/>
<circle cx="573.4" cy="821" r="3.9" fill="url(#sMK)" fill-opacity="0.86"/>
<circle cx="558.2" cy="862.9" r="3.9" fill="url(#sMK)" fill-opacity="0.86"/>
<circle cx="806.7" cy="774.7" r="3.9" fill="url(#sMK)" fill-opacity="0.86"/>
<circle cx="816.1" cy="787.4" r="3.9" fill="url(#sMK)" fill-opacity="0.86"/>
<circle cx="825" cy="799.9" r="3.9" fill="url(#sMK)" fill-opacity="0.86"/>
<circle cx="935.5" cy="785.6" r="3.9" fill="url(#sMK)" fill-opacity="0.86"/>
<circle cx="945.2" cy="783.1" r="3.9" fill="url(#sMK)" fill-opacity="0.86"/>
<circle cx="541.9" cy="736.9" r="3.9" fill="url(#sX)" fill-opacity="0.86"/>
<circle cx="541.5" cy="753.7" r="3.9" fill="url(#sX)" fill-opacity="0.86"/>
<circle cx="544.6" cy="752.1" r="3.9" fill="url(#sX)" fill-opacity="0.86"/>
<circle cx="565.7" cy="770.2" r="3.9" fill="url(#sX)" fill-opacity="0.86"/>
<circle cx="567.3" cy="775.9" r="3.9" fill="url(#sX)" fill-opacity="0.86"/>
<circle cx="566.8" cy="782" r="3.9" fill="url(#sX)" fill-opacity="0.86"/>
<circle cx="567.1" cy="792.2" r="3.9" fill="url(#sX)" fill-opacity="0.86"/>
<circle cx="548.3" cy="806.5" r="3.9" fill="url(#sX)" fill-opacity="0.86"/>
<circle cx="542.6" cy="812.6" r="3.9" fill="url(#sX)" fill-opacity="0.86"/>
<circle cx="604.9" cy="821" r="3.9" fill="url(#sX)" fill-opacity="0.86"/>
<circle cx="949.5" cy="782.6" r="3.9" fill="url(#sX)" fill-opacity="0.86"/>
<circle cx="949.5" cy="787.7" r="3.9" fill="url(#sX)" fill-opacity="0.86"/>
<circle cx="956.4" cy="781.1" r="3.9" fill="url(#sX)" fill-opacity="0.86"/>
<circle cx="965" cy="777.5" r="3.9" fill="url(#sX)" fill-opacity="0.86"/>
<circle cx="481.5" cy="949.9" r="5.6" fill="url(#sHR)" fill-opacity="0.92"/>
<text x="496.1" y="952.8" font-size="11.6" fill="#231b4b" stroke="#231b4b" stroke-width="0.22" textLength="15.2" lengthAdjust="spacing">HR</text>
<circle cx="525.3" cy="949.9" r="5.6" fill="url(#sPR)" fill-opacity="0.92"/>
<text x="539.6" y="952.8" font-size="11.8" fill="#231b4b" stroke="#231b4b" stroke-width="0.22" textLength="41.2" lengthAdjust="spacing">Product</text>
<circle cx="594.8" cy="949.9" r="5.6" fill="url(#sFI)" fill-opacity="0.92"/>
<text x="609.3" y="952.8" font-size="11.6" fill="#231b4b" stroke="#231b4b" stroke-width="0.22" textLength="39.8" lengthAdjust="spacing">Finance</text>
<circle cx="663.6" cy="949.9" r="5.6" fill="url(#sSA)" fill-opacity="0.92"/>
<text x="677.8" y="952.8" font-size="11.6" fill="#231b4b" stroke="#231b4b" stroke-width="0.22" textLength="26.5" lengthAdjust="spacing">Sales</text>
<circle cx="718.3" cy="949.9" r="5.6" fill="url(#sOP)" fill-opacity="0.92"/>
<text x="732.3" y="952.8" font-size="11.8" fill="#231b4b" stroke="#231b4b" stroke-width="0.22" textLength="59.2" lengthAdjust="spacing">Operations</text>
<circle cx="805.5" cy="949.9" r="5.6" fill="url(#sCS)" fill-opacity="0.92"/>
<text x="820.0" y="952.8" font-size="11.6" fill="#231b4b" stroke="#231b4b" stroke-width="0.22" textLength="95.7" lengthAdjust="spacing">Customer Success</text>
<circle cx="930.0" cy="949.9" r="5.6" fill="url(#sMK)" fill-opacity="0.92"/>
<text x="944.5" y="952.8" font-size="11.8" fill="#231b4b" stroke="#231b4b" stroke-width="0.22" textLength="53.7" lengthAdjust="spacing">Marketing</text>
<circle cx="1012.4" cy="949.9" r="5.6" fill="url(#sX)" fill-opacity="0.92"/>
<path d="M1035.2 944.5L1028.3 949.9L1035.2 955.3Z" fill="#aaa"/>
<text x="1044.1" y="952.8" font-size="10.0" fill="#333" stroke="#333" stroke-width="0.22" textLength="13.9" lengthAdjust="spacing">1/2</text>
<path d="M1066.8 944.5L1073.2 949.9L1066.8 955.3Z" fill="#223c4e"/>
</g>
</svg>
<div class="botbar"></div>
</body></html>
